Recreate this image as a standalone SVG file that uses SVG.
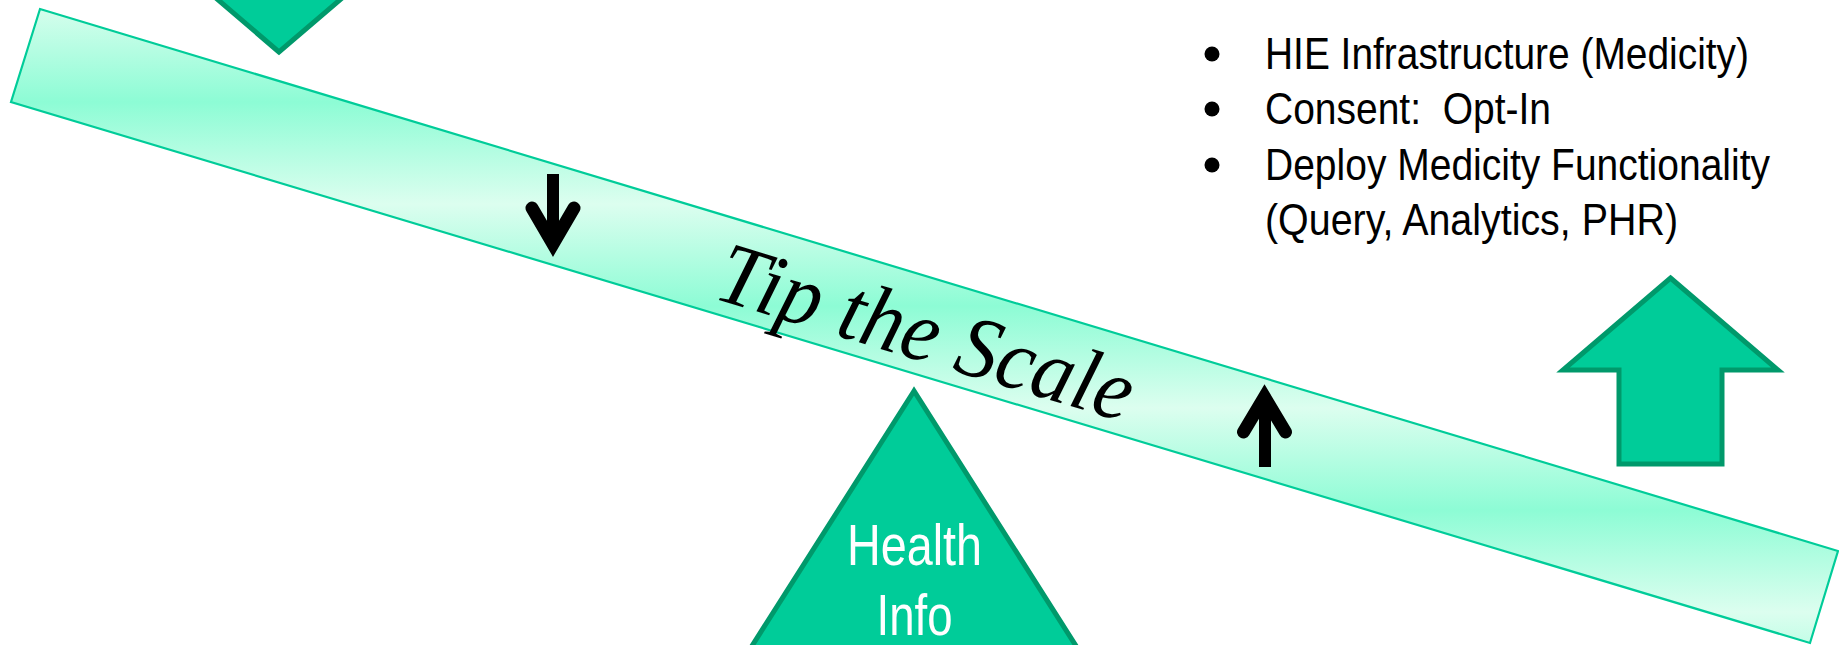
<svg xmlns="http://www.w3.org/2000/svg" width="1839" height="645" viewBox="0 0 1839 645">
  <defs>
    <linearGradient id="beamGrad" gradientUnits="userSpaceOnUse" x1="0" y1="0" x2="0" y2="102" spreadMethod="reflect">
      <stop offset="0" stop-color="#dcfeef"/>
      <stop offset="1" stop-color="#8dfcd5"/>
    </linearGradient>
    <style>
      .big { fill: #00cc99; stroke: #00996b; stroke-width: 5; stroke-linejoin: miter; }
      .beam { fill: url(#beamGrad); stroke: #00cc99; stroke-width: 2.2; }
      .shaft { stroke: #000; stroke-width: 12; fill: none; stroke-linecap: butt; }
      .wing { stroke: #000; stroke-width: 13; fill: none; stroke-linecap: round; stroke-linejoin: miter; stroke-miterlimit: 6; }
      .bul { font-family: "Liberation Sans", Arial, sans-serif; font-size: 45px; fill: #000; }
      .hi { font-family: "Liberation Sans", Arial, sans-serif; font-size: 57px; fill: #fff; }
      .tip { font-family: "Liberation Serif", "Times New Roman", serif; font-style: italic; font-size: 88px; fill: #000; }
    </style>
  </defs>

  <g id="arrow-top-left">
    <path class="big" d="M279,52 L171.5,-40 L227,-40 L227,-134 L330,-134 L330,-40 L386.5,-40 Z"/>
  </g>

  <g id="beam">
    <polygon class="beam" points="40,9 1838,551 1810,643 11,102"/>
    <text class="tip" transform="translate(712,298) rotate(16.78)" x="0" y="0" textLength="430" lengthAdjust="spacingAndGlyphs">Tip the Scale</text>
  </g>

  <g id="arrow-down-small">
    <line class="shaft" x1="553" y1="174" x2="553" y2="245"/>
    <polyline class="wing" points="532,208 553,244 574,208"/>
  </g>

  <g id="arrow-up-small">
    <line class="shaft" x1="1265" y1="467" x2="1265" y2="397"/>
    <polyline class="wing" points="1243.5,432 1264.5,397 1285.5,432"/>
  </g>

  <g id="fulcrum">
    <path class="big" d="M914,391 L710,712 L1118,712 Z"/>
    <text class="hi" x="914.5" y="565" text-anchor="middle" textLength="135" lengthAdjust="spacingAndGlyphs">Health</text>
    <text class="hi" x="914.5" y="635" text-anchor="middle" textLength="76" lengthAdjust="spacingAndGlyphs">Info</text>
  </g>

  <g id="arrow-right-big">
    <path class="big" d="M1670.5,278 L1778,370 L1722,370 L1722,464 L1619,464 L1619,370 L1563,370 Z"/>
  </g>

  <g id="bullets">
    <circle cx="1212" cy="54" r="7.5"/>
    <circle cx="1212" cy="109" r="7.5"/>
    <circle cx="1212" cy="165" r="7.5"/>
    <text class="bul" x="1265" y="69" textLength="484" lengthAdjust="spacingAndGlyphs">HIE Infrastructure (Medicity)</text>
    <text class="bul" x="1265" y="124" textLength="286" lengthAdjust="spacingAndGlyphs" xml:space="preserve">Consent:  Opt-In</text>
    <text class="bul" x="1265" y="180" textLength="505" lengthAdjust="spacingAndGlyphs">Deploy Medicity Functionality</text>
    <text class="bul" x="1265" y="235" textLength="413" lengthAdjust="spacingAndGlyphs">(Query, Analytics, PHR)</text>
  </g>
</svg>
